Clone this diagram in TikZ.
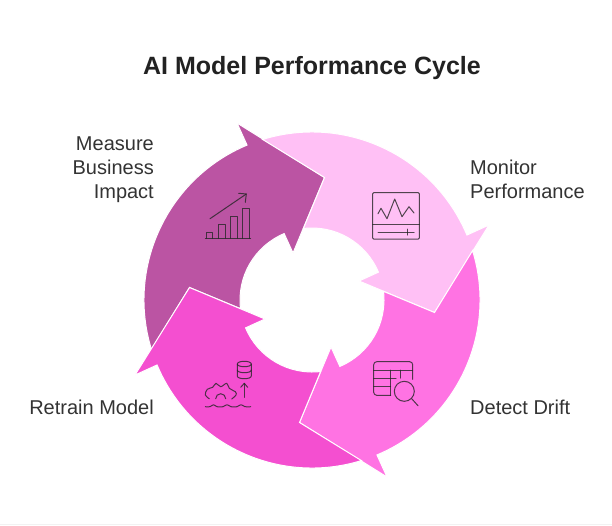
\documentclass[tikz,border=0pt]{standalone}
\usepackage{fontspec}
\setmainfont{Liberation Sans}
\definecolor{cmeasure}{HTML}{BB54A3}
\definecolor{cmonitor}{HTML}{FFC0F5}
\definecolor{cdetect}{HTML}{FF73E3}
\definecolor{cretrain}{HTML}{F44FD0}
\definecolor{clabel}{HTML}{333333}
\definecolor{ctitle}{HTML}{222222}
\tikzset{
  segment/.style={fill=#1,draw=white,line width=1pt,line join=miter},
  icon/.style={draw=black!85,opacity=.8,line width=1pt,line cap=round,line join=round},
  label/.style={inner sep=0pt,text=clabel,font=\fontsize{20}{24}\selectfont},
  heading/.style={inner sep=0pt,text=ctitle,font=\fontsize{25}{30}\selectfont\bfseries}
}
\begin{document}
\begin{tikzpicture}[x=1pt,y=-1pt]
\useasboundingbox (0,0) rectangle (612,525);
\fill[white] (0,0) rectangle (612,525);
\draw[black!5,line width=.6pt] (0,524.5) -- (612,524.5);
% ring segments: one shape, turned clockwise by a quarter each
\foreach \a/\c in {0/cmeasure,90/cmonitor,180/cdetect,270/cretrain}{
  \begin{scope}[shift={(312,300)},rotate=-\a]
    \path[segment=\c]
      (247.25:168) -- (-75,-177) -- (12.5,-122.5) -- (-19,-47) -- (247.25:72)
      arc[start angle=247.25,end angle=173.1,radius=72]
      -- (-122.5,-12.5) -- (162.9:168)
      arc[start angle=162.9,end angle=247.25,radius=168] -- cycle;
  \end{scope}
}
% chart icon
\draw[icon] (205.3,238.3) -- (250.7,238.3);
\draw[icon] (206.7,238.3) -- (206.7,232.7) -- (212.7,232.7) -- (212.7,238.3);
\draw[icon] (218.7,238.3) -- (218.7,224.7) -- (225.3,224.7) -- (225.3,238.3);
\draw[icon] (230.7,238.3) -- (230.7,216.7) -- (237,216.7) -- (237,238.3);
\draw[icon] (242.7,238.3) -- (242.7,208.7) -- (249.3,208.7) -- (249.3,238.3);
\draw[icon] (210,218.7) -- (246.3,194);
\draw[icon] (238.7,193.3) -- (246.3,194) -- (245.3,202.3);
% monitor icon
\draw[icon,rounded corners=1pt] (372.7,192.7) rectangle (419.3,239);
\draw[icon] (372.7,224.3) -- (419.3,224.3);
\draw[icon] (378,213.7) -- (381,208.3) -- (387,218.7) -- (394.7,199) -- (402,216.7) -- (409,206.7) -- (414,213);
\draw[icon] (378,232) -- (414,232);
\draw[icon] (407,229) -- (407,235);
% drift icon
\draw[icon,rounded corners=3pt] (412.7,379.3) -- (412.7,361.7) -- (373.7,361.7) -- (373.7,395.3) -- (390.7,395.3);
\draw[icon] (373.7,370) -- (412.7,370);
\draw[icon] (373.7,378) -- (396,378);
\draw[icon] (373.7,386.3) -- (390.7,386.3);
\draw[icon] (390.7,370) -- (390.7,395.3);
\draw[icon] (400.3,370) -- (400.3,378);
\draw[icon] (404.3,391.3) circle[radius=10];
\draw[icon] (411.7,398.7) -- (418,405.7);
% retrain icon
\draw[icon] (237.3,364) .. controls (237.3,360.4) and (251.3,360.4) .. (251.3,364)
  .. controls (251.3,367.6) and (237.3,367.6) .. (237.3,364);
\draw[icon] (237.3,364) -- (237.3,376) .. controls (237.3,379.6) and (251.3,379.6) .. (251.3,376) -- (251.3,364);
\draw[icon] (237.3,370) .. controls (237.3,373.6) and (251.3,373.6) .. (251.3,370);
\draw[icon] (244.3,397.3) -- (244.3,383.3);
\draw[icon] (240.7,387.3) -- (244.3,383.3) -- (247.7,387.3);
\draw[icon] plot[smooth,tension=.6] coordinates {(209.3,398.7) (205.3,395) (207.3,389.3) (212.7,387.3) (216,383.3) (220.7,386.7) (226.7,383.3) (229.3,388.3) (235.3,391.7) (236,395) (231.7,399)};
\draw[icon] (215.7,398.7) arc[start angle=180,end angle=360,radius=5];
\draw[icon] plot[smooth,tension=.6] coordinates {(205.3,406.7) (210,406.7) (213.5,404.7) (217,406.7) (223,406.7) (227,404.7) (231,406.7) (237,406.7) (241,404.7) (245,406.7) (250.7,406.7)};
% texts
\node[heading] (title) at (312,68) {AI Model Performance Cycle};
\node[label,anchor=east,align=right] (measure) at (154,170) {Measure\\Business\\Impact};
\node[label,anchor=west,align=left] (monitor) at (470,179) {Monitor\\Performance};
\node[label,anchor=west] (detect) at (470,407) {Detect Drift};
\node[label,anchor=east] (retrain) at (154,407) {Retrain Model};
\end{tikzpicture}
\end{document}
